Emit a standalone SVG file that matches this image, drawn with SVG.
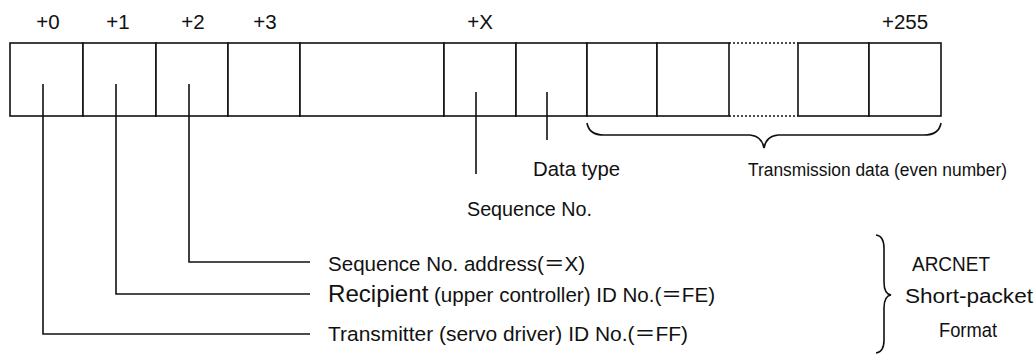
<svg xmlns="http://www.w3.org/2000/svg" width="1035" height="354" viewBox="0 0 1035 354">
<style>
.cell{fill:#fff;stroke:#111;stroke-width:1.6}
.ln{fill:none;stroke:#111;stroke-width:1.6}
.dot{fill:none;stroke:#111;stroke-width:1.6;stroke-dasharray:2 2}
text{font-family:"Liberation Sans","Noto Sans CJK JP",sans-serif;fill:#111;font-size:20.5px}
.mid{text-anchor:middle}
.sm{font-size:18px}
.big{font-size:24px}
</style>
<rect width="1035" height="354" fill="#fff"/>
<g id="offsets">
<text class="mid" x="48" y="29">+0</text>
<text class="mid" x="118" y="29">+1</text>
<text class="mid" x="193" y="29">+2</text>
<text class="mid" x="265" y="29">+3</text>
<text class="mid" x="480" y="29">+X</text>
<text class="mid" x="905" y="29">+255</text>
</g>
<g id="packet">
<rect id="b0" class="cell" x="10" y="43" width="73" height="73"/>
<rect id="b1" class="cell" x="83" y="43" width="73" height="73"/>
<rect id="b2" class="cell" x="156" y="43" width="72" height="73"/>
<rect id="b3" class="cell" x="228" y="43" width="72" height="73"/>
<rect id="bmid" class="cell" x="300" y="43" width="144" height="73"/>
<rect id="bX" class="cell" x="444" y="43" width="72" height="73"/>
<rect id="bdt" class="cell" x="516" y="43" width="71" height="73"/>
<rect id="d1" class="cell" x="587" y="43" width="70" height="73"/>
<rect id="d2" class="cell" x="657" y="43" width="72" height="73"/>
<path id="gap" class="dot" d="M729,43 H798 M729,116 H798"/>
<rect id="d3" class="cell" x="798" y="43" width="71" height="73"/>
<rect id="d4" class="cell" x="869" y="43" width="72" height="73"/>
</g>
<g id="connectors">
<path class="ln" d="M43,84 V334 H310"/>
<path class="ln" d="M116,84 V294 H310"/>
<path class="ln" d="M189,84 V262 H310"/>
<path class="ln" d="M476,92 V174"/>
<path class="ln" d="M547,92 V140"/>
<path id="brace-data" class="ln" d="M587,123 Q589,135 604,135 H750 Q762,136 764,148 Q766,136 778,135 H924 Q939,135 941,123"/>
<path id="brace-format" class="ln" d="M876,235 Q884,236 884,248 V282 Q884,294 891,295 Q884,296 884,308 V340 Q884,352 876,353"/>
</g>
<g id="labels">
<text x="533" y="176" textLength="87" lengthAdjust="spacingAndGlyphs">Data type</text>
<text x="467" y="216" textLength="125" lengthAdjust="spacingAndGlyphs">Sequence No.</text>
<text class="sm" x="748" y="176" textLength="259" lengthAdjust="spacingAndGlyphs">Transmission data (even number)</text>
<text x="328" y="271" textLength="257" lengthAdjust="spacingAndGlyphs">Sequence No. address(＝X)</text>
<text x="328" y="302" textLength="387" lengthAdjust="spacingAndGlyphs"><tspan class="big">Recipient</tspan> (upper controller) ID  No.(＝FE)</text>
<text x="328" y="341" textLength="360" lengthAdjust="spacingAndGlyphs">Transmitter (servo driver) ID  No.(＝FF)</text>
<text x="912" y="271" textLength="78" lengthAdjust="spacingAndGlyphs">ARCNET</text>
<text x="905" y="303" textLength="128" lengthAdjust="spacingAndGlyphs">Short-packet</text>
<text x="939" y="337" textLength="58" lengthAdjust="spacingAndGlyphs">Format</text>
</g>
</svg>
